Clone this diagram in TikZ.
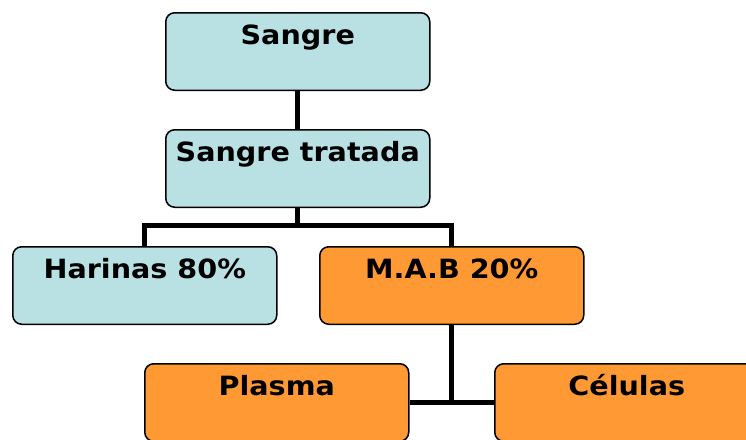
\documentclass[tikz,border=0pt]{standalone}
\usepackage{fontspec}
\setmainfont{DejaVu Sans}[FakeStretch=1.08]
\usetikzlibrary{positioning}

\definecolor{boxblue}{HTML}{B9E0E3}
\definecolor{boxorange}{HTML}{FF9933}

\tikzset{
    box/.style={draw=black, line width=1.5pt, rounded corners=9pt, inner sep=0pt,
        text height=31.5pt, text depth=46pt, minimum width=264pt,
        font=\fontsize{26.5}{28}\selectfont\bfseries, anchor=north west},
    blue box/.style={box, fill=boxblue},
    orange box/.style={box, fill=boxorange},
    link/.style={line width=5pt}
}

\begin{document}
\begin{tikzpicture}[x=1pt, y=-1pt]

    \useasboundingbox (0,0) rectangle (746,439);

    %% Boxes
    \node[blue box] (sangre) at (165,12) {Sangre};
    \node[blue box] (tratada) at (165,129) {Sangre tratada};
    \node[blue box] (harinas) at (12,246) {Harinas 80\%};
    \node[orange box] (mab) at (319,246) {M.A.B 20\%};
    \node[orange box] (plasma) at (144,363) {Plasma};
    \node[orange box] (celulas) at (494,363) {Células};

    % Connectors
    \coordinate (bus) at (0,225.5);
    \draw[link] (sangre.south) -- (tratada.north);
    \draw[link] (tratada.south) -- (tratada.south |- bus);
    \draw[link] (harinas.north) |- (bus -| mab.north) -- (mab.north);
    \draw[link] (mab.south) -- (mab.south |- plasma.east);
    \draw[link] (plasma.east) -- (celulas.west);

\end{tikzpicture}
\end{document}
